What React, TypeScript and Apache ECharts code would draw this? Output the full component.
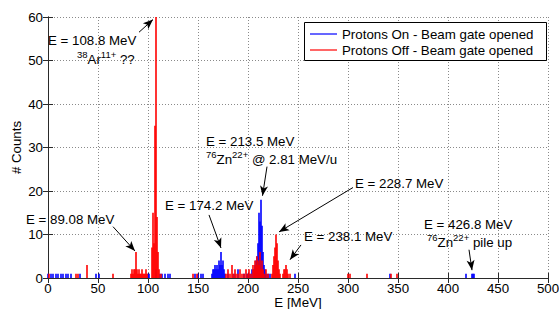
import React, { useEffect, useRef } from "react";
import * as echarts from "echarts";

// Histogram counts per 1 MeV bin: [energy (MeV), counts]
const protonsOn: [number, number][] = [
  [0, 1], [3, 1], [5, 1], [8, 1], [10, 1], [13, 1], [15, 1], [18, 1], [20, 1], [23, 1],
  [32, 1], [48, 1], [51, 1], [100, 1], [101, 1], [108, 2], [112, 1], [114, 1], [117, 1],
  [120, 1], [122, 1], [147, 1], [150, 1], [153, 1], [155, 1],
  [164, 1], [165, 2], [166, 2], [167, 3], [168, 2], [169, 3], [170, 2], [171, 4], [172, 3],
  [173, 6], [174, 3], [175, 4], [176, 2], [177, 1], [180, 1], [186, 1], [190, 2], [196, 1],
  [199, 1], [200, 1], [202, 1], [204, 2], [206, 2], [207, 3], [208, 4], [209, 5], [210, 8],
  [211, 15], [212, 13], [213, 18], [214, 12], [215, 6], [216, 3], [217, 2], [218, 1],
  [220, 1], [222, 1], [247, 1], [342, 1], [418, 1], [424, 1], [425, 1], [426, 1],
];

const protonsOff: [number, number][] = [
  [1, 1], [28, 1], [30, 1], [39, 3], [65, 1],
  [83, 1], [84, 2], [85, 1], [86, 2], [87, 2], [88, 6], [89, 2], [90, 1], [91, 2], [92, 1],
  [93, 1], [94, 2], [95, 1], [96, 1], [97, 1], [98, 2], [99, 1],
  [104, 7], [105, 15], [106, 8], [107, 35], [108, 60], [109, 14], [110, 6], [111, 2], [113, 1],
  [145, 1], [149, 1], [178, 1], [180, 2], [182, 1], [184, 3], [185, 1], [187, 2], [188, 1],
  [190, 1], [192, 2], [194, 1], [196, 1], [198, 2], [200, 1], [201, 2], [203, 1], [205, 3],
  [206, 2], [207, 4], [208, 3], [209, 5], [210, 4], [211, 3], [212, 6], [213, 2], [214, 4],
  [215, 2], [216, 1], [218, 2], [220, 1], [224, 1], [225, 3], [226, 5], [227, 7], [228, 10],
  [229, 8], [230, 4], [231, 2], [232, 1], [235, 1], [236, 2], [237, 2], [238, 3], [239, 2],
  [240, 1], [242, 1], [300, 1], [302, 1], [319, 1], [343, 1], [349, 1],
];

const seriesNames = ["Protons On - Beam gate opened", "Protons Off - Beam gate opened"];
const seriesColors = ["#0000ff", "#ff0000"];

const xTickInterval = 50;
const yTickInterval = 10;

// Annotation arrows in data coordinates: [tail, head]
const arrows: [[number, number], [number, number]][] = [
  [[91, 56.5], [105, 59.4]],
  [[65, 11.8], [87, 6.2]],
  [[161, 14.5], [173, 6.9]],
  [[219, 25.6], [214.5, 18.9]],
  [[305, 20.8], [231, 10.6]],
  [[253, 7.6], [242, 4.2]],
  [[421, 6.5], [424, 1.8]],
];

// Annotation texts, left-anchored, in data coordinates
const notes: { text: string; at: [number, number] }[] = [
  { text: "E = 108.8 MeV", at: [0, 54.5] },
  { text: "{s|38}Ar{s|11+} ??", at: [29, 50.3] },
  { text: "E = 89.08 MeV", at: [-22, 13.4] },
  { text: "E = 174.2 MeV", at: [117, 16.6] },
  { text: "E = 213.5 MeV", at: [158, 31.4] },
  { text: "{s|76}Zn{s|22+} @ 2.81 MeV/u", at: [158, 27.2] },
  { text: "E = 228.7 MeV", at: [307, 21.7] },
  { text: "E = 238.1 MeV", at: [256, 9.5] },
  { text: "E = 426.8 MeV", at: [376, 12.2] },
  { text: "{s|76}Zn{s|22+} pile up", at: [379, 8.1] },
];

const FONT = "'Liberation Sans', Arial, Helvetica, sans-serif";
const FS = 13.3;
const AXIS_COLOR = "#2a2a2a";

// Legend frame (pixels)
const LEGEND_BOX = { x: 304, y: 22, width: 242, height: 38 };

export default function App() {
  const ref = useRef<HTMLDivElement>(null);

  useEffect(() => {
    if (!ref.current) return;
    const chart = echarts.init(ref.current, null, { renderer: "svg" });

    const tickInside = { show: true, inside: true, length: 5, lineStyle: { color: AXIS_COLOR } };
    const option: any = {
      animation: false,
      backgroundColor: "#fff",
      textStyle: { fontFamily: FONT },
      grid: { left: 48, right: 11, top: 17, bottom: 31, containLabel: false, outerBoundsMode: "none" },
      legend: {
        data: seriesNames.map((n) => ({ name: n, icon: "rect" })),
        orient: "vertical",
        left: LEGEND_BOX.x,
        top: LEGEND_BOX.y,
        z: 20,
        itemWidth: 27,
        itemHeight: 1.2,
        itemGap: 2,
        padding: [5, 4, 4, 6],
        textStyle: { fontFamily: FONT, fontSize: FS, color: "#000", lineHeight: 14 },
      },
      xAxis: [
        {
          type: "value",
          min: 0,
          max: 500,
          interval: xTickInterval,
          name: "E [MeV]",
          nameLocation: "middle",
          nameGap: 24,
          nameMoveOverlap: false,
          nameTextStyle: { fontFamily: FONT, fontSize: FS, color: "#000", verticalAlign: "middle" },
          axisLine: { show: true, lineStyle: { color: AXIS_COLOR } },
          axisTick: tickInside,
          axisLabel: { fontFamily: FONT, fontSize: FS, color: "#000", margin: 4 },
          splitLine: { show: true, lineStyle: { color: "#8a8a8a", type: [1, 2], width: 1 } },
        },
        {
          type: "value",
          position: "top",
          min: 0,
          max: 500,
          interval: xTickInterval,
          axisLine: { show: true, lineStyle: { color: AXIS_COLOR } },
          axisTick: tickInside,
          axisLabel: { show: false },
          splitLine: { show: false },
        },
      ],
      yAxis: [
        {
          type: "value",
          min: 0,
          max: 60,
          interval: yTickInterval,
          name: "# Counts",
          nameLocation: "middle",
          nameGap: 32,
          nameMoveOverlap: false,
          nameTextStyle: { fontFamily: FONT, fontSize: FS, color: "#000", verticalAlign: "middle" },
          axisLine: { show: true, lineStyle: { color: AXIS_COLOR } },
          axisTick: tickInside,
          axisLabel: { fontFamily: FONT, fontSize: FS, color: "#000", margin: 5 },
          splitLine: { show: true, lineStyle: { color: "#8a8a8a", type: [1, 2], width: 1 } },
        },
        {
          type: "value",
          position: "right",
          min: 0,
          max: 60,
          interval: yTickInterval,
          axisLine: { show: true, lineStyle: { color: AXIS_COLOR } },
          axisTick: tickInside,
          axisLabel: { show: false },
          splitLine: { show: false },
        },
      ],
      series: [
        {
          name: seriesNames[0],
          type: "bar",
          xAxisIndex: 0,
          yAxisIndex: 0,
          data: protonsOn,
          barWidth: 1.6,
          barGap: "-100%",
          itemStyle: { color: seriesColors[0] },
          clip: true,
        },
        {
          name: seriesNames[1],
          type: "bar",
          xAxisIndex: 0,
          yAxisIndex: 0,
          data: protonsOff,
          barWidth: 1.6,
          barGap: "-100%",
          itemStyle: { color: seriesColors[1] },
          clip: true,
          markLine: {
            silent: true,
            symbol: ["none", "arrow"],
            symbolSize: [6, 10],
            label: { show: false },
            lineStyle: { color: "#000", width: 1, type: "solid" },
            emphasis: { disabled: true },
            data: arrows.map(([a, b]) => [{ coord: a }, { coord: b }]),
          },
        },
      ],
    };

    chart.setOption(option);

    const graphics: any[] = notes.map((n) => {
      const p = chart.convertToPixel({ xAxisIndex: 0, yAxisIndex: 0 }, n.at) as number[];
      return {
        type: "text",
        x: p[0],
        y: p[1],
        z: 100,
        silent: true,
        style: {
          text: n.text,
          fill: "#000",
          fontFamily: FONT,
          fontSize: FS,
          lineHeight: 20,
          align: "left",
          verticalAlign: "middle",
          rich: {
            s: { fontFamily: FONT, fontSize: 9.5, lineHeight: 8, verticalAlign: "top", fill: "#000" },
          },
        },
      };
    });
    graphics.push({
      type: "rect",
      z: 10,
      silent: true,
      shape: { x: LEGEND_BOX.x + 0.5, y: LEGEND_BOX.y + 0.5, width: LEGEND_BOX.width, height: LEGEND_BOX.height },
      style: { fill: "#fff", stroke: "#000", lineWidth: 1 },
    });
    chart.setOption({ graphic: graphics });

    return () => chart.dispose();
  }, []);

  return (
    <div
      ref={ref}
      style={{ position: "absolute", left: 0, top: 0, width: 559, height: 309, background: "#fff" }}
    />
  );
}
